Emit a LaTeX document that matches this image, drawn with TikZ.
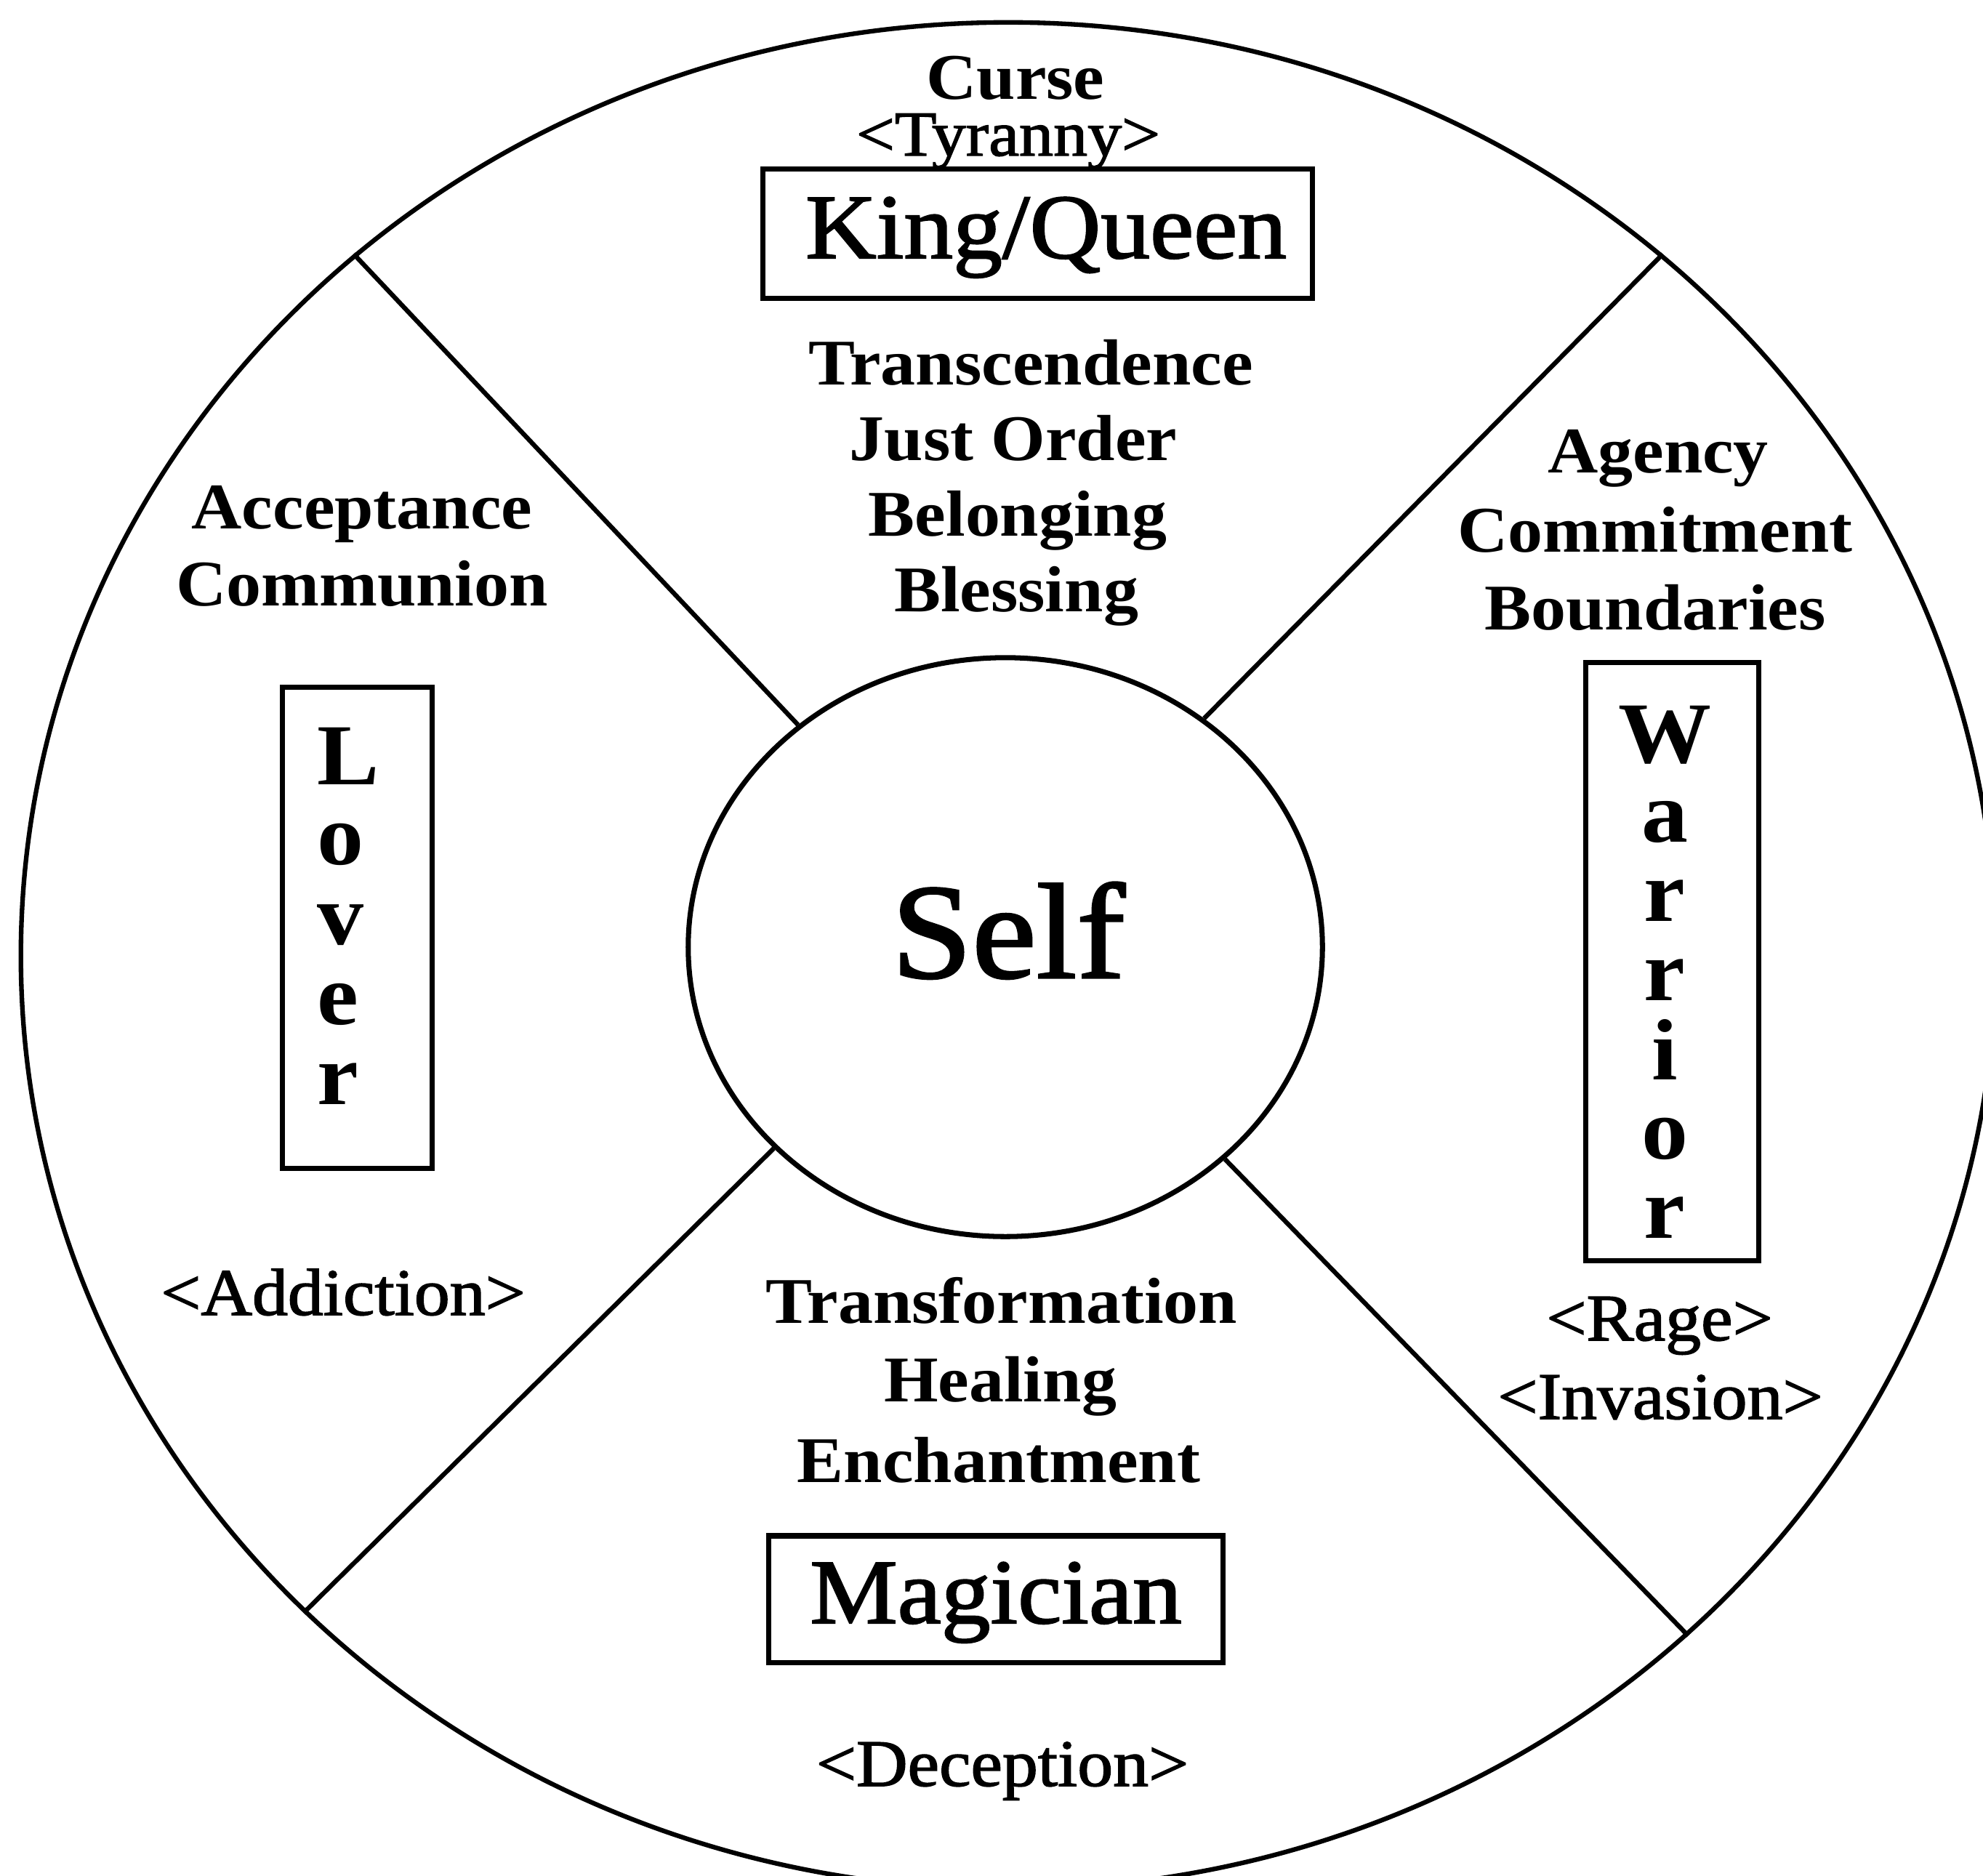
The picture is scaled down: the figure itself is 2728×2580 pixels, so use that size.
\documentclass[tikz,border=0pt]{standalone}
\usepackage{fontspec}
\setmainfont{Liberation Serif}
\newfontfamily\heavyserif[FakeBold=1.6]{Liberation Serif}
\usetikzlibrary{shapes.geometric}
\tikzset{
  rim/.style={draw, ellipse, inner sep=0pt, line width=1.8pt},
  plainbox/.style={draw, rectangle, inner sep=0pt, line width=2pt},
  divider/.style={line width=1.8pt},
  virtue/.style={font=\fontsize{25.5}{30}\selectfont\bfseries, anchor=base, inner sep=0pt, xscale=1.07},
  shadowtxt/.style={font=\heavyserif\fontsize{26}{30}\selectfont, anchor=base, inner sep=0pt, xscale=1.07},
  archetype/.style={font=\heavyserif\fontsize{36}{40}\selectfont, anchor=base, inner sep=0pt, xscale=1.07},
  vletter/.style={font=\fontsize{34}{40}\selectfont\bfseries, inner sep=0pt, xscale=1.07},
}
\begin{document}
\begin{tikzpicture}[x=0.01cm, y=-0.01cm]
\useasboundingbox (0,0) rectangle (2728,2580);
\fill[white] (0,0) rectangle (2728,2580);
\clip (0,0) rectangle (2728,2580);

% outer wheel and the central Self
\node[rim, minimum width=27.15cm, minimum height=25.67cm] (outer) at (1387,1315) {};
\node[rim, line width=2pt, minimum width=8.72cm, minimum height=7.96cm] (self) at (1383,1303) {};
\node[archetype, font=\heavyserif\fontsize{53}{60}\selectfont] (selftext) at (1387,1345) {Self};

% quadrant dividers
\draw[divider] (self.133) -- (outer.133);
\draw[divider] (self.49) -- (outer.47);
\draw[divider] (self.221) -- (outer.223);
\draw[divider] (self.316) -- (outer.315);

% King/Queen quadrant
\node[virtue] (curse) at (1397,136) {Curse};
\node[shadowtxt, font=\heavyserif\fontsize{25}{30}\selectfont] (tyranny) at (1387,214) {<Tyranny>};
\node[plainbox, minimum width=7.55cm, minimum height=1.77cm] (kqbox) at (1427.5,321.5) {};
\node[archetype] (kq) at (1439,355) {King/Queen};
\foreach \w/\x [count=\i from 0] in {Transcendence/1418, Just Order/1394, Belonging/1400, Blessing/1398}
  \node[virtue] (kqv\i) at (\x,{529+104*\i}) {\w};

% Lover quadrant
\node[virtue] (acceptance) at (498,727) {Acceptance};
\node[virtue] (communion) at (498,833) {Communion};
\node[plainbox, minimum width=2.05cm, minimum height=6.61cm] (loverbox) at (491.5,1276.5) {};
\foreach \c [count=\i from 0] in {L,o,v,e,r}
  \node[vletter, anchor=base west] (lover\i) at (436,{1079+110*\i}) {\c};
\node[shadowtxt] (addiction) at (472,1809) {<Addiction>};

% Warrior quadrant
\node[virtue] (agency) at (2281,650) {Agency};
\node[virtue] (commitment) at (2277,759) {Commitment};
\node[virtue] (boundaries) at (2277,866) {Boundaries};
\node[plainbox, minimum width=2.37cm, minimum height=8.22cm] (warriorbox) at (2300.5,1323) {};
\foreach \c [count=\i from 0] in {W,a,r,r,i,o,r}
  \node[vletter, anchor=base] (warrior\i) at (2290,{1049+109*\i}) {\c};
\node[shadowtxt] (rage) at (2283,1844) {<Rage>};
\node[shadowtxt] (invasion) at (2284,1952) {<Invasion>};

% Magician quadrant
\node[virtue] (transformation) at (1378,1820) {Transformation};
\node[virtue] (healing) at (1376,1928) {Healing};
\node[virtue] (enchantment) at (1374,2039) {Enchantment};
\node[plainbox, minimum width=6.24cm, minimum height=1.74cm] (magbox) at (1370,2200) {};
\node[archetype] (magician) at (1370,2233) {Magician};
\node[shadowtxt] (deception) at (1379,2457) {<Deception>};
\end{tikzpicture}
\end{document}
